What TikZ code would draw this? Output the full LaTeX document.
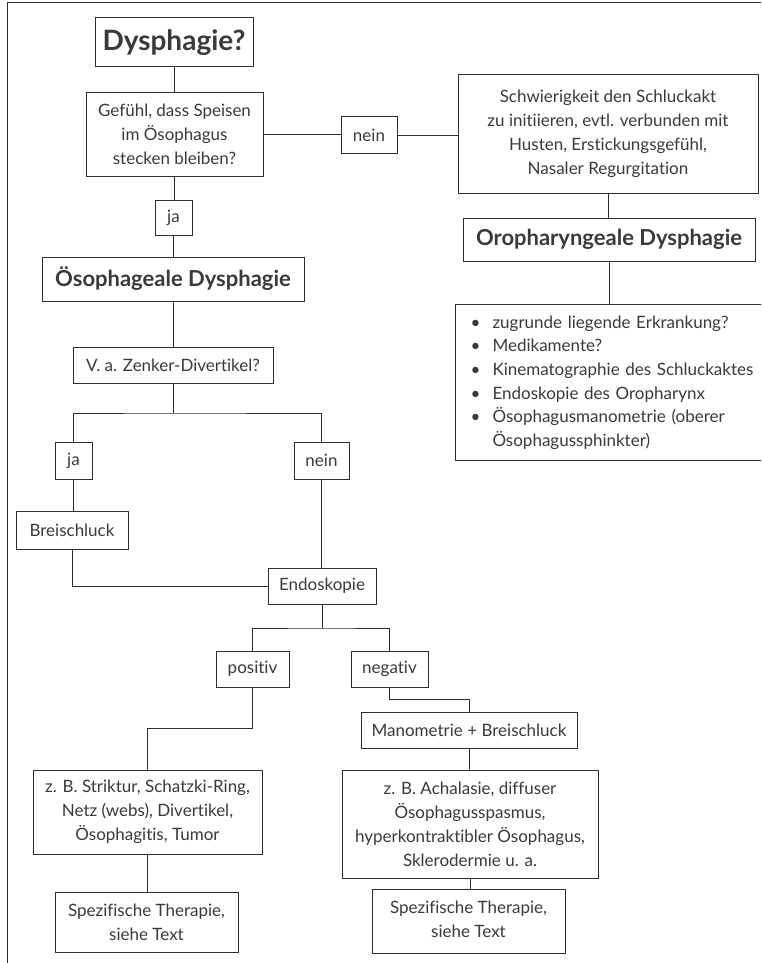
\documentclass[tikz,border=0pt]{standalone}
\usepackage{fontspec}
\setmainfont{Lato}[Ligatures=NoCommon]
\definecolor{linecol}{HTML}{2E2E2E}
\definecolor{textcol}{HTML}{3A3A3A}
\begin{document}
\begin{tikzpicture}[x=1pt,y=-1pt,
  boxbase/.style={draw=linecol, line width=1pt, rectangle, inner sep=0pt, text=textcol,
    font=\fontsize{17}{24}\selectfont},
  box/.style={boxbase, align=center},
  head/.style={box, font=\fontsize{22}{26}\selectfont\bfseries},
  conn/.style={draw=linecol, line width=1pt}]
\useasboundingbox (0,0) rectangle (761,963);
\clip (0,0) rectangle (761,963);
\fill[white] (0,0) rectangle (761,963);
% frame
\draw[conn] (761,3) -- (7,3) -- (7,963);
% nodes
\node[box, minimum width=158, minimum height=49, font=\fontsize{28}{32}\selectfont\bfseries] (dys) at (174,42.5) {Dysphagie?};
\node[box, minimum width=177, minimum height=83] (gef) at (174.5,134.5) {Gefühl, dass Speisen\\im Ösophagus\\stecken bleiben?};
\node[box, minimum width=56, minimum height=36] (nein1) at (369,135) {nein};
\node[boxbase, minimum width=300, minimum height=118] (schw) at (608,134)
  {\begin{tabular}{@{}c@{}}Schwierigkeit den Schluckakt\\zu initiieren, evtl. verbunden mit\\Husten, Erstickungsgefühl,\\Nasaler Regurgitation\end{tabular}\hspace{36pt}};
\node[box, minimum width=37, minimum height=35] (ja1) at (173.5,217.5) {ja};
\node[head, minimum width=292, minimum height=43] (oro) at (609,239.5) {Oropharyngeale Dysphagie};
\node[boxbase, anchor=north west, minimum height=156, text width=320, inner xsep=15pt, align=left,
  font=\fontsize{17}{23.6}\selectfont] (list) at (455,304)
  {\begin{tabular}{@{}p{22pt}@{}l@{}}
   • & zugrunde liegende Erkrankung?\\
   • & Medikamente?\\
   • & Kinematographie des Schluckaktes\\
   • & Endoskopie des Oropharynx\\
   • & Ösophagusmanometrie (oberer\\
     & Ösophagussphinkter)
   \end{tabular}};
\node[head, minimum width=262, minimum height=44] (oes) at (173,279) {Ösophageale Dysphagie};
\node[box, minimum width=200, minimum height=36] (zen) at (173,365) {V. a. Zenker-Divertikel?};
\node[box, minimum width=37, minimum height=37] (ja2) at (73.5,460.5) {ja};
\node[box, minimum width=55, minimum height=37] (nein2) at (321.5,460.5) {nein};
\node[box, minimum width=112, minimum height=38] (brei) at (72,530) {Breischluck};
\node[box, minimum width=108, minimum height=36] (endo) at (322,586) {Endoskopie};
\node[box, minimum width=73, minimum height=36] (pos) at (252.5,669) {positiv};
\node[box, minimum width=77, minimum height=36] (neg) at (389.5,669) {negativ};
\node[box, minimum width=216, minimum height=36] (mano) at (469,730) {Manometrie + Breischluck};
\node[box, minimum width=229, minimum height=84] (strik) at (147.5,812) {z. B. Striktur, Schatzki-Ring,\\Netz (webs), Divertikel,\\Ösophagitis, Tumor};
\node[box, minimum width=256, minimum height=108] (acha) at (470,824) {z. B. Achalasie, diffuser\\Ösophagusspasmus,\\hyperkontraktibler Ösophagus,\\Sklerodermie u. a.};
\node[box, minimum width=183, minimum height=60] (spez1) at (146.5,922) {Spezifische Therapie,\\siehe Text};
\node[boxbase, minimum width=193, minimum height=64] (spez2) at (468.5,921) {\begin{tabular}{@{}c@{}}Spezifische Therapie,\\siehe Text\end{tabular}\hspace{10pt}};
% connectors
\draw[conn] (dys.south) -- (dys.south |- gef.north);
\draw[conn] (gef.east) -- (gef.east -| nein1.west);
\draw[conn] (nein1.east) -- (nein1.east -| schw.west);
\draw[conn] (gef.south) -- (gef.south |- ja1.north);
\draw[conn] (ja1.south) -- (ja1.south |- oes.north);
\draw[conn] (schw.south) -- (schw.south |- oro.north);
\draw[conn] (oro.south) -- (oro.south |- list.north);
\draw[conn] (oes.south) -- (oes.south |- zen.north);
\coordinate (zs) at (173,413);
\draw[conn] (zen.south) -- (zs);
\draw[conn] (ja2.north) |- (zs) -| (nein2.north);
\draw[conn] (ja2.south) -- (ja2.south |- brei.north);
\draw[conn] (brei.south) |- (endo.west);
\draw[conn] (nein2.south) -- (nein2.south |- endo.north);
\coordinate (es) at (322,628);
\draw[conn] (endo.south) -- (es);
\draw[conn] (pos.north) |- (es) -| (neg.north);
\draw[conn] (pos.south) -- ++(0,41) -| (strik.north);
\draw[conn] (neg.south) -- ++(0,12) -| (mano.north);
\draw[conn] (mano.south) -- (mano.south |- acha.north);
\draw[conn] (acha.south) -- (acha.south |- spez2.north);
\draw[conn] (strik.south) -- (strik.south |- spez1.north);
\end{tikzpicture}
\end{document}
